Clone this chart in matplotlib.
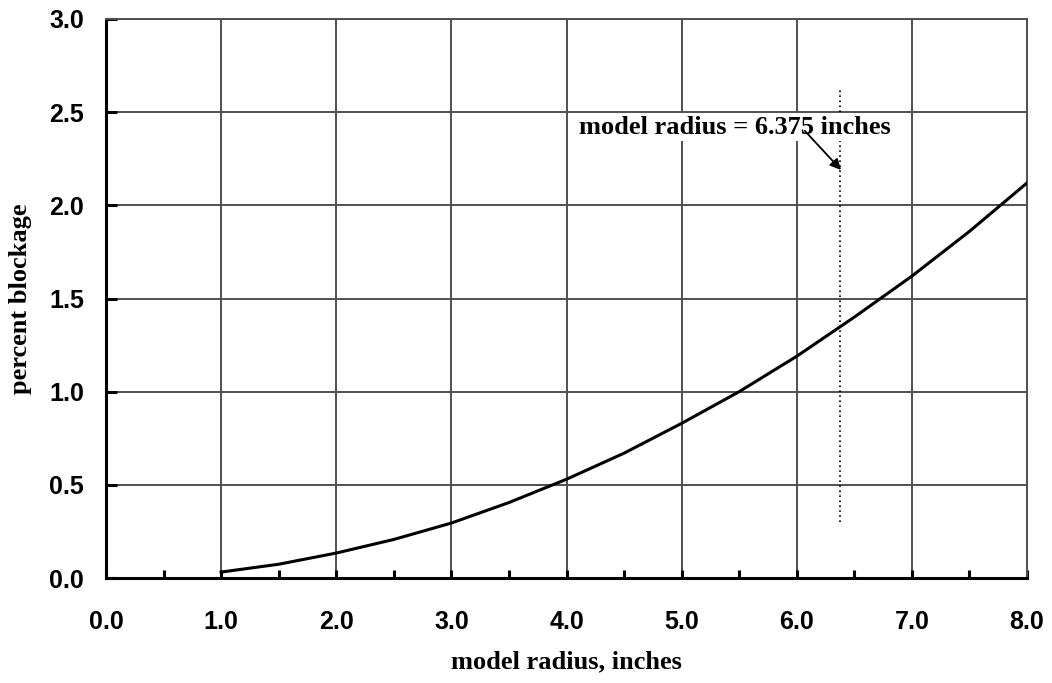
import matplotlib
matplotlib.use("Agg")
import matplotlib.pyplot as plt
from matplotlib.ticker import MultipleLocator, FormatStrFormatter

# model radius (inches) vs. percent blockage
radius = [1.0, 1.5, 2.0, 2.5, 3.0, 3.5, 4.0, 4.5, 5.0, 5.5, 6.0, 6.5, 7.0, 7.5, 8.0]
blockage = [0.032, 0.074, 0.134, 0.207, 0.295, 0.405, 0.53, 0.67, 0.83, 1.0,
            1.19, 1.40, 1.62, 1.86, 2.12]

model_r = 6.375
marker_y = [0.3, 2.62]
note = "model radius = 6.375 inches"

fig = plt.figure(figsize=(10.52, 6.83), dpi=100)
ax = fig.add_axes([0.1008, 0.1537, 0.8754, 0.8185])

grid_c = "#505050"
ax.set_xlim(0, 8)
ax.set_ylim(0, 3)
ax.xaxis.set_major_locator(MultipleLocator(1.0))
ax.xaxis.set_minor_locator(MultipleLocator(0.5))
ax.yaxis.set_major_locator(MultipleLocator(0.5))
ax.xaxis.set_major_formatter(FormatStrFormatter("%.1f"))
ax.yaxis.set_major_formatter(FormatStrFormatter("%.1f"))
ax.grid(True, which="major", color=grid_c, linewidth=1.4)
ax.set_axisbelow(True)

for s in ("left", "bottom"):
    ax.spines[s].set_linewidth(2.2)
    ax.spines[s].set_color("black")
for s in ("top", "right"):
    ax.spines[s].set_linewidth(1.4)
    ax.spines[s].set_color(grid_c)

ax.tick_params(axis="x", which="major", direction="in", length=6, width=2.2,
               pad=23, top=False)
ax.tick_params(axis="x", which="minor", direction="in", length=6, width=2.2, top=False)
ax.tick_params(axis="y", which="major", direction="in", length=8, width=2.2,
               pad=16, right=False)
for lab in ax.get_xticklabels() + ax.get_yticklabels():
    lab.set_fontfamily("Liberation Sans")
    lab.set_fontweight("bold")
    lab.set_fontsize(18)

ax.plot(radius, blockage, color="black", linewidth=2.2, zorder=3)

# dotted marker at the model radius with its callout
ax.plot([model_r, model_r], marker_y, color="black", linestyle=(0, (1, 2)),
        linewidth=1.2, zorder=3)
ax.text(5.46, 2.42, note, ha="center", va="center", fontsize=19,
        fontweight="bold", family="Liberation Serif", zorder=4,
        bbox=dict(boxstyle="square,pad=0.1", fc="white", ec="none"))
ax.annotate("", xy=(model_r + 0.01, 2.19), xytext=(6.07, 2.40),
            arrowprops=dict(arrowstyle="-|>", color="black", lw=1.3,
                            shrinkA=0, shrinkB=0, mutation_scale=16),
            zorder=5)

ax.set_xlabel("model radius, inches", fontsize=19, fontweight="bold",
              family="Liberation Serif", labelpad=12)
ax.set_ylabel("percent blockage", fontsize=19, fontweight="bold",
              family="Liberation Serif", labelpad=12)

fig.savefig("out.png", dpi=100)
